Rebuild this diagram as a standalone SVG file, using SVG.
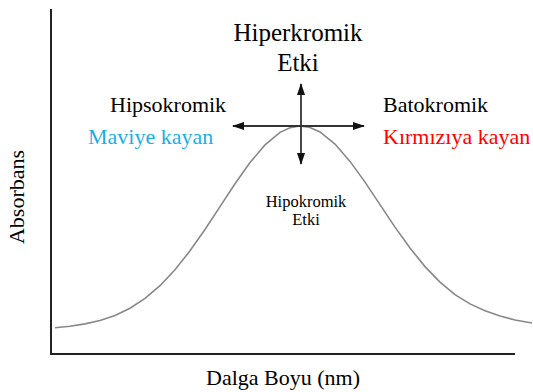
<svg xmlns="http://www.w3.org/2000/svg" width="533" height="392" viewBox="0 0 533 392">
<style>
.t{font-family:'Liberation Serif',Tinos,'Times New Roman','DejaVu Serif',serif}
.axis{stroke:#222;stroke-width:2;fill:none}
.arr{stroke:#333;stroke-width:1.8;fill:none;marker-end:url(#ah)}
.curve{stroke:#888;stroke-width:1.6;fill:none}
</style>
<defs>
<marker id="ah" viewBox="0 0 12 8" refX="11" refY="4" markerWidth="12" markerHeight="8" markerUnits="userSpaceOnUse" orient="auto">
<path d="M0,0 L12,4 L0,8 Z" fill="#111"/>
</marker>
</defs>
<rect width="533" height="392" fill="#fff"/>
<g id="axes">
<path class="axis" d="M51,9 V354 H515"/>
</g>
<g id="curve">
<polyline class="curve" points="55,327.8 70,326.3 85,323.9 100,320.5 115,315.4 130,308.2 145,298.4 160,285.7 175,269.8 190,250.8 205,229.5 220,206.6 235,183.7 250,162.6 265,144.9 280,132.4 290,127.7 300,126 310,127.5 320,132 335,144.1 350,161.4 365,182.1 380,204.6 395,227.1 410,248 425,266.6 440,282.1 455,294.6 470,303.9 485,310.7 500,316 515,320 532,323"/>
</g>
<g id="connectors">
<line class="arr" x1="301" y1="126" x2="301" y2="84"/>
<line class="arr" x1="301" y1="126" x2="301" y2="164"/>
<line class="arr" x1="301" y1="126" x2="233" y2="126"/>
<line class="arr" x1="301" y1="126" x2="364" y2="126"/>
</g>
<g id="hiperkromik" font-family="Liberation Serif, serif">
<text class="t" x="298" y="41" font-size="25" text-anchor="middle">Hiperkromik</text>
<text class="t" x="298" y="71" font-size="25" text-anchor="middle">Etki</text>
</g>
<g id="hipsokromik" font-family="Liberation Serif, serif">
<text class="t" x="110" y="112" font-size="22">Hipsokromik</text>
<text class="t" x="88" y="144" font-size="22" fill="#1aaee8">Maviye kayan</text>
</g>
<g id="batokromik" font-family="Liberation Serif, serif">
<text class="t" x="383" y="112" font-size="22">Batokromik</text>
<text class="t" x="383" y="144" font-size="22" fill="#ff0000">Kırmızıya kayan</text>
</g>
<g id="hipokromik" font-family="Liberation Serif, serif">
<text class="t" x="306" y="207" font-size="16.5" text-anchor="middle">Hipokromik</text>
<text class="t" x="306" y="225" font-size="16.5" text-anchor="middle">Etki</text>
</g>
<g id="xlabel" font-family="Liberation Serif, serif">
<text class="t" x="283" y="385" font-size="22" text-anchor="middle">Dalga Boyu (nm)</text>
</g>
<g id="ylabel" font-family="Liberation Serif, serif">
<text class="t" transform="translate(24,197) rotate(-90)" font-size="22" text-anchor="middle">Absorbans</text>
</g>
</svg>
